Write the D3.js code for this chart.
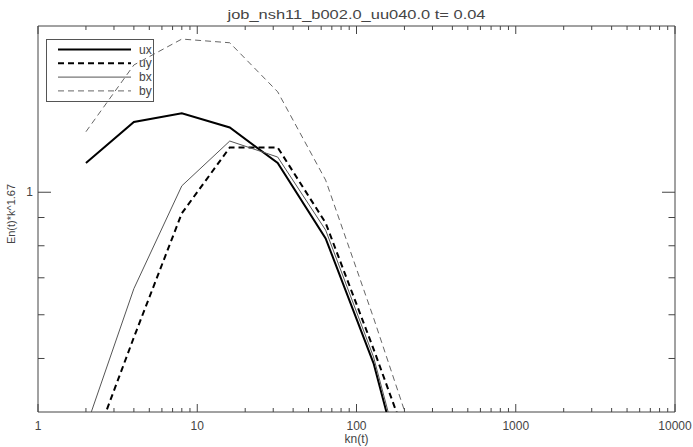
<!DOCTYPE html>
<html>
<head>
<meta charset="utf-8">
<script src="https://cdn.jsdelivr.net/npm/d3@7"></script>
<style>
  body { margin: 0; background: #fff; }
  svg { display: block; font-family: "Liberation Sans", "DejaVu Sans", sans-serif; }
</style>
</head>
<body>
<div id="chart"></div>
<script>
// wavenumbers (shells)
let kn = [2, 4, 8, 16, 32, 64, 128, 256];

// spectra, compensated by k^1.67
let ux = [1.13, 1.34, 1.39, 1.31, 1.13, 0.825, 0.49, 0.23];
let uy = [0.32, 0.546, 0.916, 1.205, 1.205, 0.88, 0.52, 0.30];
let bx = [0.375, 0.669, 1.027, 1.238, 1.158, 0.854, 0.503, 0.237];
let by = [1.287, 1.70, 1.894, 1.865, 1.52, 1.052, 0.592, 0.325];

let seriesNames = ["ux", "uy", "bx", "by"];
let xTickLabels = ["1", "10", "100", "1000", "10000"];
let yTickLabels = ["1"];

let width = 693, height = 447;
let margin = { top: 26, bottom: 35, left: 38, right: 18 };

let styles = {
  ux: { color: "#000", w: 2, dash: null },
  uy: { color: "#000", w: 2, dash: "6,4" },
  bx: { color: "#555", w: 1, dash: null },
  by: { color: "#666", w: 1, dash: "6,4" }
};

let values = { ux: ux, uy: uy, bx: bx, by: by };

let svg = d3.select("#chart").append("svg")
  .attr("width", width)
  .attr("height", height);

let xScale = d3.scaleLog()
  .domain([1, 10000])
  .range([margin.left, width - margin.right]);
let yScale = d3.scaleLog()
  .domain([0.4, 2])
  .range([height - margin.bottom, margin.top]);

// clip to plot box
svg.append("clipPath").attr("id", "plotclip")
  .append("rect")
  .attr("x", xScale.range()[0])
  .attr("y", yScale.range()[1])
  .attr("width", xScale.range()[1] - xScale.range()[0])
  .attr("height", yScale.range()[0] - yScale.range()[1]);

// tick values
let xMajor = xTickLabels.map(d => { return +d });
let xMinor = [];
for (let dec = 1; dec < 10000; dec *= 10) {
  for (let m = 2; m <= 9; m++) xMinor.push(dec * m);
}
let yMajor = yTickLabels.map(d => { return +d });
let yMinor = [0.5, 0.6, 0.7, 0.8, 0.9];

let axisColor = "#444";
let textColor = "#444";
let xMajLen = 8, xMinLen = 4, yMajLen = 13, yMinLen = 6.5;

// bottom + top axes
[["x-bottom", 1], ["x-top", -1]].forEach(a => {
  let y0 = a[1] > 0 ? yScale.range()[0] : yScale.range()[1];
  let g = svg.append("g").attr("class", a[0]);
  g.append("line")
    .attr("x1", xScale.range()[0]).attr("x2", xScale.range()[1])
    .attr("y1", y0).attr("y2", y0)
    .attr("stroke", axisColor);
  g.selectAll(".maj").data(xMajor).enter().append("line")
    .attr("x1", d => { return xScale(d) }).attr("x2", d => { return xScale(d) })
    .attr("y1", y0).attr("y2", y0 - a[1] * xMajLen)
    .attr("stroke", axisColor);
  g.selectAll(".min").data(xMinor).enter().append("line")
    .attr("x1", d => { return xScale(d) }).attr("x2", d => { return xScale(d) })
    .attr("y1", y0).attr("y2", y0 - a[1] * xMinLen)
    .attr("stroke", axisColor);
});

// left + right axes
[["y-left", 1], ["y-right", -1]].forEach(a => {
  let x0 = a[1] > 0 ? xScale.range()[0] : xScale.range()[1];
  let g = svg.append("g").attr("class", a[0]);
  g.append("line")
    .attr("x1", x0).attr("x2", x0)
    .attr("y1", yScale.range()[0]).attr("y2", yScale.range()[1])
    .attr("stroke", axisColor);
  g.selectAll(".maj").data(yMajor).enter().append("line")
    .attr("y1", d => { return yScale(d) }).attr("y2", d => { return yScale(d) })
    .attr("x1", x0).attr("x2", x0 + a[1] * yMajLen)
    .attr("stroke", axisColor);
  g.selectAll(".min").data(yMinor).enter().append("line")
    .attr("y1", d => { return yScale(d) }).attr("y2", d => { return yScale(d) })
    .attr("x1", x0).attr("x2", x0 + a[1] * yMinLen)
    .attr("stroke", axisColor);
});

// tick labels
svg.append("g").selectAll("text").data(xTickLabels).enter().append("text")
  .attr("x", d => { return xScale(+d) })
  .attr("y", 430)
  .attr("text-anchor", "middle")
  .attr("font-size", 12)
  .attr("fill", textColor)
  .text(d => { return d });

svg.append("g").selectAll("text").data(yTickLabels).enter().append("text")
  .attr("x", 33)
  .attr("y", d => { return yScale(+d) + 4 })
  .attr("text-anchor", "end")
  .attr("font-size", 12)
  .attr("fill", textColor)
  .text(d => { return d });

// title and axis titles
svg.append("text")
  .attr("x", (xScale.range()[0] + xScale.range()[1]) / 2)
  .attr("y", 19)
  .attr("text-anchor", "middle")
  .attr("font-size", 13)
  .attr("textLength", 258)
  .attr("lengthAdjust", "spacingAndGlyphs")
  .attr("fill", textColor)
  .text("job_nsh11_b002.0_uu040.0 t= 0.04");

svg.append("text")
  .attr("x", (xScale.range()[0] + xScale.range()[1]) / 2)
  .attr("y", 443)
  .attr("text-anchor", "middle")
  .attr("font-size", 12)
  .attr("fill", textColor)
  .text("kn(t)");

svg.append("text")
  .attr("transform", "translate(15," + 214 + ") rotate(-90)")
  .attr("text-anchor", "middle")
  .attr("font-size", 11)
  .attr("fill", textColor)
  .text("En(t)*k^1.67");

// spectra
let line = d3.line()
  .x(d => { return xScale(d.k) })
  .y(d => { return yScale(d.v) });

let plot = svg.append("g").attr("clip-path", "url(#plotclip)");
seriesNames.forEach(name => {
  let pts = kn.map((k, i) => { return { k: k, v: values[name][i] } });
  plot.append("path")
    .datum(pts)
    .attr("fill", "none")
    .attr("stroke", styles[name].color)
    .attr("stroke-width", styles[name].w)
    .attr("stroke-dasharray", styles[name].dash)
    .attr("d", line);
});

// legend
let legend = svg.append("g").attr("class", "legend");
legend.append("rect")
  .attr("x", 46.5).attr("y", 39.5)
  .attr("width", 107).attr("height", 62)
  .attr("fill", "none")
  .attr("stroke", "#555");
seriesNames.forEach((name, i) => {
  let y = 49.5 + i * 13.8;
  legend.append("line")
    .attr("x1", 58).attr("x2", 131)
    .attr("y1", y).attr("y2", y)
    .attr("stroke", styles[name].color)
    .attr("stroke-width", styles[name].w)
    .attr("stroke-dasharray", styles[name].dash);
  legend.append("text")
    .attr("x", 139).attr("y", y + 4)
    .attr("font-size", 12)
    .attr("fill", textColor)
    .text(name);
});
</script>
</body>
</html>
